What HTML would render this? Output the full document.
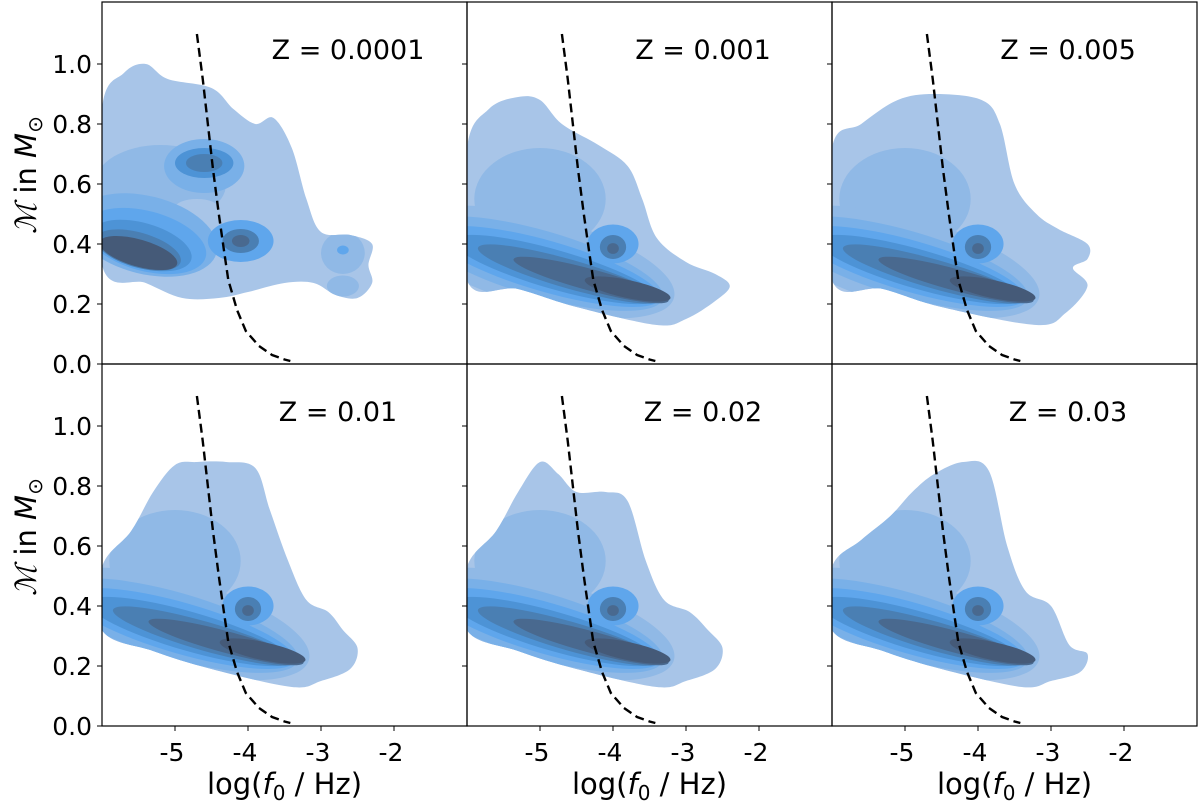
<!DOCTYPE html>
<html><head><meta charset="utf-8"><style>
body{margin:0;background:#fff;}
svg text{font-family:"DejaVu Sans","Liberation Sans",sans-serif;fill:#000;}
</style></head><body>
<svg id="chart" width="1200" height="802" viewBox="0 0 1200 802" xmlns="http://www.w3.org/2000/svg"></svg>
<script>
const panelTitles = ["Z = 0.0001","Z = 0.001","Z = 0.005","Z = 0.01","Z = 0.02","Z = 0.03"];
const xTicks = [-5,-4,-3,-2];
const yTicks = [0.0,0.2,0.4,0.6,0.8,1.0];
const dashX = [-4.7,-4.62,-4.55,-4.48,-4.4,-4.33,-4.27,-4.15,-4.03,-3.85,-3.67,-3.5,-3.42];
const dashY = [1.1,0.95,0.8,0.65,0.5,0.38,0.28,0.18,0.11,0.06,0.03,0.015,0.01];
const outlines = [
 [[-6,0.85],[-5.7,0.97],[-5.4,1.0],[-5.1,0.95],[-4.5,0.92],[-4.2,0.85],[-3.9,0.8],[-3.65,0.82],[-3.4,0.72],[-3.2,0.55],[-3.0,0.44],[-2.6,0.43],[-2.3,0.40],[-2.35,0.33],[-2.3,0.27],[-2.5,0.22],[-2.8,0.23],[-3.1,0.27],[-3.5,0.27],[-4.0,0.24],[-4.4,0.22],[-4.9,0.22],[-5.4,0.27],[-6,0.33]],
 [[-6,0.72],[-5.7,0.85],[-5.3,0.89],[-5.0,0.88],[-4.7,0.8],[-4.2,0.73],[-3.8,0.66],[-3.6,0.55],[-3.4,0.42],[-3.0,0.34],[-2.6,0.3],[-2.4,0.26],[-2.6,0.21],[-3.0,0.15],[-3.4,0.13],[-4.5,0.19],[-5.3,0.25],[-6,0.28]],
 [[-6,0.72],[-5.6,0.8],[-5.1,0.88],[-4.6,0.9],[-3.95,0.88],[-3.7,0.8],[-3.5,0.6],[-3.2,0.5],[-2.9,0.45],[-2.5,0.4],[-2.5,0.35],[-2.7,0.32],[-2.5,0.26],[-2.8,0.17],[-3.2,0.13],[-4.5,0.19],[-5.3,0.25],[-6,0.28]],
 [[-6,0.53],[-5.6,0.65],[-5.3,0.78],[-5.0,0.87],[-4.7,0.88],[-4.3,0.88],[-3.9,0.86],[-3.7,0.72],[-3.45,0.55],[-3.2,0.42],[-2.9,0.38],[-2.7,0.32],[-2.5,0.26],[-2.6,0.19],[-3.0,0.15],[-3.4,0.13],[-4.5,0.19],[-5.3,0.25],[-6,0.32]],
 [[-6,0.53],[-5.6,0.65],[-5.3,0.78],[-5.0,0.88],[-4.75,0.84],[-4.5,0.78],[-4.1,0.78],[-3.8,0.75],[-3.55,0.55],[-3.3,0.42],[-2.95,0.38],[-2.7,0.32],[-2.5,0.26],[-2.6,0.19],[-3.0,0.15],[-3.4,0.13],[-4.5,0.19],[-5.3,0.25],[-6,0.32]],
 [[-6,0.53],[-5.6,0.62],[-5.2,0.7],[-4.9,0.78],[-4.6,0.84],[-4.2,0.88],[-3.85,0.85],[-3.6,0.6],[-3.35,0.45],[-3.0,0.4],[-2.75,0.27],[-2.5,0.24],[-2.6,0.18],[-3.0,0.15],[-3.4,0.13],[-4.5,0.19],[-5.3,0.25],[-6,0.32]]
];
// ellipses: [cx, cy, rx, ry, angle, level]
const commonBlobs = [
 [-5.0,0.55,0.9,0.17,0,1],
 [-5.0,0.34,1.9,0.15,15,1],[-5.0,0.335,1.75,0.11,16,2],[-4.9,0.325,1.6,0.085,16,3],
 [-4.8,0.315,1.45,0.065,16,4],[-4.6,0.30,1.3,0.048,16,5],[-4.3,0.28,1.1,0.036,15,6],[-3.8,0.25,0.6,0.03,12,7],
 [-4.0,0.40,0.35,0.065,0,3],[-4.0,0.39,0.18,0.04,0,5],[-4.0,0.385,0.08,0.018,0,6]
];
const blobs1 = [
 [-5.2,0.6,0.9,0.13,0,1],[-4.6,0.66,0.55,0.09,0,2],[-4.6,0.67,0.4,0.05,0,4],[-4.6,0.67,0.25,0.03,0,5],
 [-4.7,0.52,0.3,0.03,0,0],
 [-5.4,0.43,1.0,0.13,14,2],[-5.4,0.41,0.85,0.10,15,3],[-5.45,0.395,0.7,0.075,16,4],[-5.5,0.38,0.6,0.058,16,5],[-5.5,0.37,0.55,0.045,16,7],
 [-4.1,0.41,0.45,0.07,0,3],[-4.1,0.41,0.25,0.04,0,5],[-4.1,0.41,0.12,0.02,0,6],
 [-2.7,0.37,0.3,0.07,0,1],[-2.7,0.38,0.08,0.015,0,3],[-2.7,0.26,0.22,0.035,0,1]
];
const levelColors = ["#a8c5e8","#90b9e6","#79b0e8","#5fa6ec","#4d93d6","#4a7fb3","#49698f","#455a78"];

const svg = document.getElementById('chart');
const NS = "http://www.w3.org/2000/svg";
const panels = [[102,2],[467,2],[832,2],[102,364],[467,364],[832,364]];
const PW = 365, PH = 362, YSCALE = 300;
function mk(tag, attrs){const e=document.createElementNS(NS,tag);for(const k in attrs)e.setAttribute(k,attrs[k]);return e;}
function smooth(pts){
 const n=pts.length;let d=`M${pts[0][0]},${pts[0][1]}`;
 for(let i=0;i<n;i++){const p0=pts[(i-1+n)%n],p1=pts[i],p2=pts[(i+1)%n],p3=pts[(i+2)%n];
  d+=`C${p1[0]+(p2[0]-p0[0])/6},${p1[1]+(p2[1]-p0[1])/6} ${p2[0]-(p3[0]-p1[0])/6},${p2[1]-(p3[1]-p1[1])/6} ${p2[0]},${p2[1]}`;}
 return d+"Z";
}
const defs = mk('defs',{});svg.appendChild(defs);
panels.forEach((p,i)=>{
 const [x0,y0]=p;
 const sx=v=>x0+(v+6)*PW/5;
 const sy=v=>y0+PH-v*YSCALE;
 const cp=mk('clipPath',{id:'cp'+i});cp.appendChild(mk('rect',{x:x0,y:y0,width:PW,height:PH}));defs.appendChild(cp);
 const ocp=mk('clipPath',{id:'ocp'+i});ocp.appendChild(mk('path',{d:smooth(outlines[i].map(q=>[sx(q[0]),sy(q[1])]))}));defs.appendChild(ocp);
 const g=mk('g',{'clip-path':`url(#cp${i})`});
 
 
 svg.appendChild(g);
 const outer=mk('path',{d:smooth(outlines[i].map(q=>[sx(q[0]),sy(q[1])])),fill:levelColors[0]});
 
 
 g.appendChild(outer);
 const gi=mk('g',{'clip-path':`url(#ocp${i})`});
 g.appendChild(gi);
 const bl=i===0?blobs1:commonBlobs;
 bl.forEach(b=>{
  const e=mk('ellipse',{cx:0,cy:0,rx:b[2]*PW/5,ry:b[3]*YSCALE,fill:levelColors[b[5]],transform:`translate(${sx(b[0])},${sy(b[1])}) rotate(${b[4]})`});
  
  
  gi.appendChild(e);
 });
 const dl=mk('path',{d:'M'+dashX.map((x,k)=>`${sx(x)},${sy(dashY[k])}`).join('L'),fill:'none',stroke:'#000','stroke-width':2.4,'stroke-dasharray':'9,5'});
 
 
 g.appendChild(dl);
 const fr=mk('rect',{x:x0,y:y0,width:PW,height:PH,fill:'none',stroke:'#000','stroke-width':1.2});
 
 
 svg.appendChild(fr);
 const t=mk('text',{x:x0+(i===0?246:236),y:y0+57,'font-size':27,'text-anchor':'middle'});t.textContent=panelTitles[i];
 
 
 svg.appendChild(t);
 yTicks.forEach(v=>{
  svg.appendChild(mk('line',{x1:x0,x2:x0-5,y1:sy(v),y2:sy(v),stroke:'#000'}));
  if(i%3===0){const l=mk('text',{x:x0-10,y:sy(v)+9,'font-size':25,'text-anchor':'end'});l.textContent=v.toFixed(1);
   
   
   svg.appendChild(l);}
 });
 if(i>=3){
  xTicks.forEach(v=>{
   svg.appendChild(mk('line',{x1:sx(v),x2:sx(v),y1:y0+PH,y2:y0+PH+5,stroke:'#000'}));
   const l=mk('text',{x:sx(v)-3,y:y0+PH+35,'font-size':25,'text-anchor':'middle'});l.textContent='-'+Math.abs(v);
   
   
   svg.appendChild(l);
  });
  const xl=mk('text',{x:x0+PW/2,y:y0+PH+68,'font-size':29,'text-anchor':'middle'});
  xl.innerHTML='log(<tspan font-style="italic">f</tspan><tspan font-size="20" dy="6">0</tspan><tspan dy="-6"> / Hz)</tspan>';
  
  
  svg.appendChild(xl);
 }
 if(i%3===0){
  const yl=mk('text',{x:0,y:0,'font-size':29,'text-anchor':'middle',transform:`translate(36,${y0+PH/2-8}) rotate(-90)`});
  yl.innerHTML='<tspan font-style="italic" font-family="Liberation Serif">ℳ</tspan> in <tspan font-style="italic">M</tspan><tspan font-size="20" dy="6">⊙</tspan>';
  
  
  svg.appendChild(yl);
 }
});
</script>
</body></html>
